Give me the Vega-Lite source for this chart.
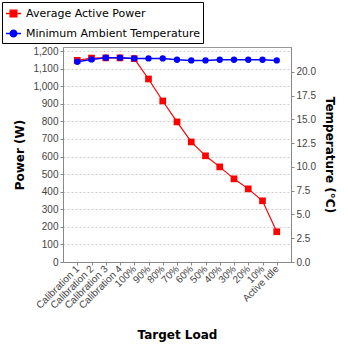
{
  "$schema": "https://vega.github.io/schema/vega-lite/v6.json",
  "width": 228,
  "height": 215,
  "autosize": "none",
  "padding": {"left": 63, "top": 47, "right": 57, "bottom": 86},
  "background": "white",
  "config": {
    "font": "Liberation Sans",
    "view": {"stroke": "#999999", "strokeWidth": 1},
    "axis": {
      "labelFont": "Liberation Sans",
      "labelFontSize": 10,
      "labelColor": "#444444",
      "titleFont": "DejaVu Sans",
      "titleFontSize": 12,
      "titleFontWeight": "bold",
      "titleColor": "#000000",
      "domainColor": "#888888",
      "tickColor": "#888888",
      "tickSize": 3
    }
  },
  "data": {
    "values": [
      {"load": "Calibration 1", "power": 1147, "temp": 21.05},
      {"load": "Calibration 2", "power": 1160, "temp": 21.29},
      {"load": "Calibration 3", "power": 1161, "temp": 21.47},
      {"load": "Calibration 4", "power": 1161, "temp": 21.47},
      {"load": "100%", "power": 1157, "temp": 21.4},
      {"load": "90%", "power": 1041, "temp": 21.4},
      {"load": "80%", "power": 916, "temp": 21.4},
      {"load": "70%", "power": 797, "temp": 21.26},
      {"load": "60%", "power": 683, "temp": 21.19},
      {"load": "50%", "power": 604, "temp": 21.19},
      {"load": "40%", "power": 541, "temp": 21.26},
      {"load": "30%", "power": 473, "temp": 21.26},
      {"load": "20%", "power": 416, "temp": 21.26},
      {"load": "10%", "power": 348, "temp": 21.26},
      {"load": "Active Idle", "power": 172, "temp": 21.19}
    ]
  },
  "encoding": {
    "x": {
      "field": "load",
      "type": "ordinal",
      "sort": null,
      "scale": {"type": "point", "padding": 1.15},
      "axis": {
        "title": "Target Load",
        "labelAngle": -45,
        "labelAlign": "right",
        "labelBaseline": "middle",
        "labelPadding": 2,
        "titlePadding": 19,
        "grid": false
      }
    }
  },
  "layer": [
    {
      "mark": {
        "type": "line",
        "strokeWidth": 1.2,
        "point": {"shape": "square", "size": 45, "filled": true, "opacity": 1}
      },
      "encoding": {
        "y": {
          "field": "power",
          "type": "quantitative",
          "scale": {"domain": [0, 1223], "nice": false},
          "axis": {
            "title": "Power (W)",
            "values": [0, 100, 200, 300, 400, 500, 600, 700, 800, 900, 1000, 1100, 1200],
            "format": ",d",
            "grid": true,
            "gridColor": "#cccccc",
            "gridDash": [2, 2],
            "titlePadding": 6
          }
        },
        "color": {
          "datum": "Average Active Power",
          "type": "nominal",
          "scale": {
            "domain": ["Average Active Power", "Minimum Ambient Temperature"],
            "range": ["#ff0000", "#0000ff"]
          },
          "legend": {
            "title": null,
            "orient": "none",
            "legendX": -61,
            "legendY": -45,
            "direction": "vertical",
            "padding": 3,
            "strokeColor": "#000000",
            "fillColor": "white",
            "symbolSize": 225,
            "rowPadding": 5,
            "labelFont": "DejaVu Sans",
            "labelFontSize": 11,
            "labelColor": "#000000",
            "labelOffset": 4,
            "labelLimit": 400,
            "encode": {
              "entries": {
                "update": {
                  "width": {"value": 337}
                }
              },
              "symbols": {
                "update": {
                  "shape": {"signal": "datum.value === 'Average Active Power' ? 'M-1,0H1M-0.45,-0.45H0.45V0.45H-0.45Z' : 'M-1,0H1M0.45,0A0.45,0.45 0 1,1 -0.45,0A0.45,0.45 0 1,1 0.45,0Z'"},
                  "strokeWidth": {"value": 1.3},
                  "opacity": {"value": 1}
                }
              }
            }
          }
        }
      }
    },
    {
      "mark": {
        "type": "line",
        "strokeWidth": 1.5,
        "point": {"shape": "circle", "size": 40, "filled": true, "opacity": 1}
      },
      "encoding": {
        "y": {
          "field": "temp",
          "type": "quantitative",
          "scale": {"domain": [0, 22.6], "nice": false},
          "axis": {
            "title": "Temperature  (°C)",
            "orient": "right",
            "values": [0, 2.5, 5, 7.5, 10, 12.5, 15, 17.5, 20],
            "format": ".1f",
            "grid": false,
            "titlePadding": 7
          }
        },
        "color": {"datum": "Minimum Ambient Temperature", "type": "nominal"}
      }
    }
  ],
  "resolve": {"scale": {"y": "independent"}}
}
